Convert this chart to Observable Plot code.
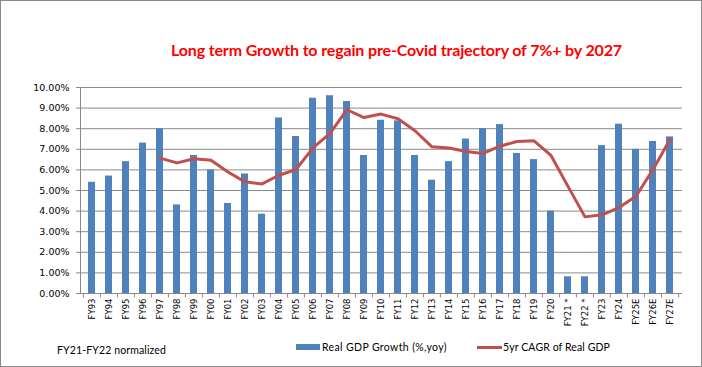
<!DOCTYPE html>
<html><head><meta charset="utf-8">
<script src="https://cdn.jsdelivr.net/npm/d3@7"></script>
<script src="https://cdn.jsdelivr.net/npm/@observablehq/plot@0.6"></script>
<style>
html,body{margin:0;padding:0;background:#fff;}
#frame{position:relative;width:702px;height:367px;box-sizing:border-box;border:1px solid #898989;background:#fff;overflow:hidden;}
#title{position:absolute;left:170px;top:38px;line-height:22px;font-family:Lato;font-weight:bold;font-size:16px;color:#f00;white-space:nowrap;}
#chart{position:absolute;left:0;top:70px;}
.leg{position:absolute;font-family:Lato;font-size:10.5px;line-height:14px;color:#000;white-space:nowrap;}
.sw{position:absolute;}
</style></head>
<body>
<div id="frame">
  <div id="title">Long term Growth to regain pre-Covid trajectory of 7%+ by 2027</div>
  <div id="chart"></div>
  <div class="leg" id="note" style="left:56px;top:342px;">FY21-FY22 normalized</div>
  <div class="sw" style="left:295px;top:343px;width:24px;height:6px;background:#4F81BD;"></div>
  <div class="leg" id="leg1" style="left:321px;top:339px;">Real GDP Growth (%,yoy)</div>
  <div class="sw" style="left:476px;top:345px;width:25px;height:3px;background:#C0504D;"></div>
  <div class="leg" id="leg2" style="left:502px;top:339px;">5yr CAGR of Real GDP</div>
</div>
<script>
const categories = ["FY93","FY94","FY95","FY96","FY97","FY98","FY99","FY00","FY01","FY02","FY03","FY04","FY05","FY06","FY07","FY08","FY09","FY10","FY11","FY12","FY13","FY14","FY15","FY16","FY17","FY18","FY19","FY20","FY21 *","FY22 *","FY23","FY24","FY25E","FY26E","FY27E"];
const growth = [5.40,5.70,6.40,7.30,8.00,4.30,6.70,6.00,4.37,5.80,3.85,8.52,7.62,9.48,9.60,9.32,6.70,8.41,8.38,6.70,5.50,6.40,7.50,8.00,8.20,6.80,6.50,4.00,0.81,0.81,7.18,8.22,7.00,7.38,7.60];
const cagr = [null,null,null,null,6.57,6.34,6.54,6.47,5.90,5.42,5.32,5.74,6.02,7.07,7.77,8.92,8.54,8.71,8.48,7.90,7.12,7.06,6.89,6.80,7.15,7.38,7.41,6.70,5.20,3.72,3.82,4.17,4.72,6.02,7.48];
const yTicks = [0,1,2,3,4,5,6,7,8,9,10];
const seriesNames = ["Real GDP Growth (%,yoy)","5yr CAGR of Real GDP"];

const data = categories.map((fy,i)=>({fy, growth: growth[i], cagr: cagr[i]}));
const grid = "#8a8a8a";
const plot = Plot.plot({
  width: 700, height: 262,
  marginLeft: 79, marginRight: 19, marginTop: 16, marginBottom: 40,
  style: {fontFamily: "DejaVu Sans", fontSize: "9.5px", color: "#000", background: "transparent", overflow: "visible"},
  x: {domain: categories, paddingInner: 0.56, paddingOuter: 0.28, label: null},
  y: {domain: [0,10], label: null},
  marks: [
    Plot.gridY(yTicks, {stroke: grid, strokeOpacity: 1}),
    Plot.barY(data, {x: "fy", y: "growth", fill: "#4F81BD"}),
    Plot.ruleY([0], {stroke: grid}),
    Plot.frame({anchor: "left", stroke: grid}),
    Plot.line(data.filter(d => d.cagr != null), {x: "fy", y: "cagr", stroke: "#C0504D", strokeWidth: 3, strokeLinejoin: "round", strokeLinecap: "round"}),
    Plot.axisY(yTicks, {tickFormat: d => d.toFixed(2) + "%", tickSize: 4, tickPadding: 7, stroke: grid, fontSize: 9.5}),
    Plot.axisX({tickRotate: -90, tickSize: 0, tickPadding: 5, fontSize: 8.5, label: null}),
    Plot.ruleX(categories, {x: d => d, y1: 0, y2: -0.22, dx: -8.6, stroke: grid}),
    Plot.ruleX([categories[categories.length-1]], {x: d => d, y1: 0, y2: -0.22, dx: 8.6, stroke: grid})
  ]
});
document.getElementById("chart").appendChild(plot);

function fit(id, target){
  const el = document.getElementById(id);
  el.style.letterSpacing = "0px";
  const w = el.getBoundingClientRect().width;
  const n = el.textContent.length;
  el.style.letterSpacing = ((target - w) / n) + "px";
}
fit("title", 451);
fit("note", 109);
fit("leg1", 125);
fit("leg2", 107);
</script>
</body></html>
